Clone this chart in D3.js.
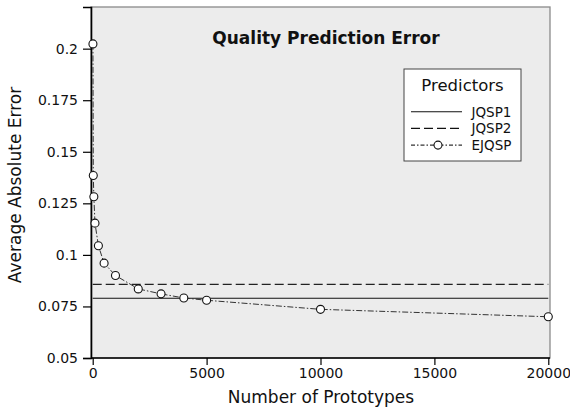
<!DOCTYPE html>
<html>
<head>
<meta charset="utf-8">
<script src="https://cdn.jsdelivr.net/npm/d3@7"></script>
<style>
	body { margin: 0; background: #fff; }
	svg { display: block; font-family: "DejaVu Sans", sans-serif; }
</style>
</head>
<body>
<div id="graph"></div>
<script>
// prototypes vs average absolute error
const prototypes = [10, 25, 50, 100, 250, 500, 1000, 2000, 3000, 4000, 5000, 10000, 20000];
const ejqsp = [0.2023, 0.1385, 0.1282, 0.1154, 0.1044, 0.096, 0.09, 0.0835, 0.0811, 0.0791, 0.078, 0.0736, 0.070];
const jqsp1 = 0.079;
const jqsp2 = 0.0857;
const xTicks = [0, 5000, 10000, 15000, 20000];
const yTicks = [0.05, 0.075, 0.1, 0.125, 0.15, 0.175, 0.2];
const seriesNames = ["JQSP1", "JQSP2", "EJQSP"];

const width = 570;
const height = 408;
const marginLeft = 91;
const marginRight = 20;
const marginTop = 7;
const marginBottom = 50;

const xScale = d3.scaleLinear([-75, 20075], [marginLeft, width - marginRight]);
const yScale = d3.scaleLinear([0.05, 0.2202], [height - marginBottom, marginTop]);

const svg = d3
	.select("#graph")
	.append("svg")
	.attr("width", width)
	.attr("height", height)
	.attr("viewBox", [0, 0, width, height]);

// plot panel
svg
	.append("rect")
	.attr("x", marginLeft)
	.attr("y", marginTop)
	.attr("width", width - marginLeft - marginRight)
	.attr("height", height - marginTop - marginBottom)
	.attr("fill", "#ececec")
	.attr("stroke", "#8a8a8a")
	.attr("stroke-width", 1.3);

const xAxis = d3.axisBottom(xScale).tickValues(xTicks).tickFormat(d3.format("d")).tickSizeOuter(0).tickSize(7).tickPadding(3);
const yAxis = d3.axisLeft(yScale).tickValues(yTicks).tickFormat((d) => d3.format("")(+d.toFixed(3))).tickSizeOuter(0).tickSize(8).tickPadding(5);

svg
	.append("g")
	.attr("transform", `translate(0,${height - marginBottom})`)
	.call(xAxis)
	.call((g) => g.select(".domain").attr("stroke-width", 1.6).attr("d", `M${marginLeft},0H${width - marginRight}`))
	.call((g) => g.selectAll(".tick line").attr("stroke-width", 1.2))
	.call((g) => g.selectAll(".tick text").attr("font-size", 14).attr("font-family", "DejaVu Sans").attr("fill", "#111"));

svg
	.append("g")
	.attr("transform", `translate(${marginLeft},0)`)
	.call(yAxis)
	.call((g) => g.select(".domain").attr("stroke-width", 1.6))
	.call((g) => g.selectAll(".tick line").attr("stroke-width", 1.2))
	.call((g) => g.selectAll(".tick text").attr("font-size", 14).attr("font-family", "DejaVu Sans").attr("fill", "#111"));

// reference lines
const x0 = xScale(0);
const x1 = xScale(20000);
svg
	.append("line")
	.attr("x1", x0)
	.attr("x2", x1)
	.attr("y1", yScale(jqsp1))
	.attr("y2", yScale(jqsp1))
	.attr("stroke", "#111")
	.attr("stroke-width", 1.1);

svg
	.append("line")
	.attr("x1", x0)
	.attr("x2", x1)
	.attr("y1", yScale(jqsp2))
	.attr("y2", yScale(jqsp2))
	.attr("stroke", "#222")
	.attr("stroke-width", 1.1)
	.attr("stroke-dasharray", "9,4");

// EJQSP
const line = d3
	.line()
	.x((d, i) => xScale(prototypes[i]))
	.y((d) => yScale(d));

svg
	.append("path")
	.datum(ejqsp)
	.attr("fill", "none")
	.attr("stroke", "#333")
	.attr("stroke-width", 1)
	.attr("stroke-dasharray", "6,2,1.5,2")
	.attr("d", line);

svg
	.append("g")
	.selectAll("circle")
	.data(ejqsp)
	.join("circle")
	.attr("cx", (d, i) => xScale(prototypes[i]))
	.attr("cy", (d) => yScale(d))
	.attr("r", 4)
	.attr("fill", "#fff")
	.attr("stroke", "#111")
	.attr("stroke-width", 1.1);

// title
svg
	.append("text")
	.attr("x", 326)
	.attr("y", 44)
	.attr("text-anchor", "middle")
	.attr("font-size", 17)
	.attr("font-weight", "bold")
	.attr("fill", "#111")
	.text("Quality Prediction Error");

// axis labels
svg
	.append("text")
	.attr("x", 321)
	.attr("y", 403)
	.attr("text-anchor", "middle")
	.attr("font-size", 17)
	.attr("fill", "#111")
	.text("Number of Prototypes");

svg
	.append("text")
	.attr("transform", "translate(21,185) rotate(-90)")
	.attr("text-anchor", "middle")
	.attr("font-size", 17)
	.attr("fill", "#111")
	.text("Average Absolute Error");

// legend
const legend = svg.append("g").attr("transform", "translate(404,69)");
legend
	.append("rect")
	.attr("width", 117)
	.attr("height", 92)
	.attr("fill", "#fff")
	.attr("stroke", "#444")
	.attr("stroke-width", 1);

legend
	.append("text")
	.attr("x", 58.5)
	.attr("y", 22)
	.attr("text-anchor", "middle")
	.attr("font-size", 16.5)
	.attr("fill", "#111")
	.text("Predictors");

const dashes = [null, "9,4", "4,2,1.5,2"];
const rows = legend
	.selectAll("g.row")
	.data(seriesNames)
	.join("g")
	.attr("class", "row")
	.attr("transform", (d, i) => `translate(0,${42.7 + i * 16.7})`);

rows
	.append("line")
	.attr("x1", 7)
	.attr("x2", 58)
	.attr("stroke", (d, i) => (i == 2 ? "#333" : "#111"))
	.attr("stroke-width", 1.1)
	.attr("stroke-dasharray", (d, i) => dashes[i]);

rows
	.filter((d, i) => i == 2)
	.append("circle")
	.attr("cx", 34)
	.attr("r", 4)
	.attr("fill", "#fff")
	.attr("stroke", "#111")
	.attr("stroke-width", 1.1);

rows
	.append("text")
	.attr("x", 67.5)
	.attr("y", 5)
	.attr("font-size", 13.5)
	.attr("fill", "#111")
	.text((d) => d);
</script>
</body>
</html>
